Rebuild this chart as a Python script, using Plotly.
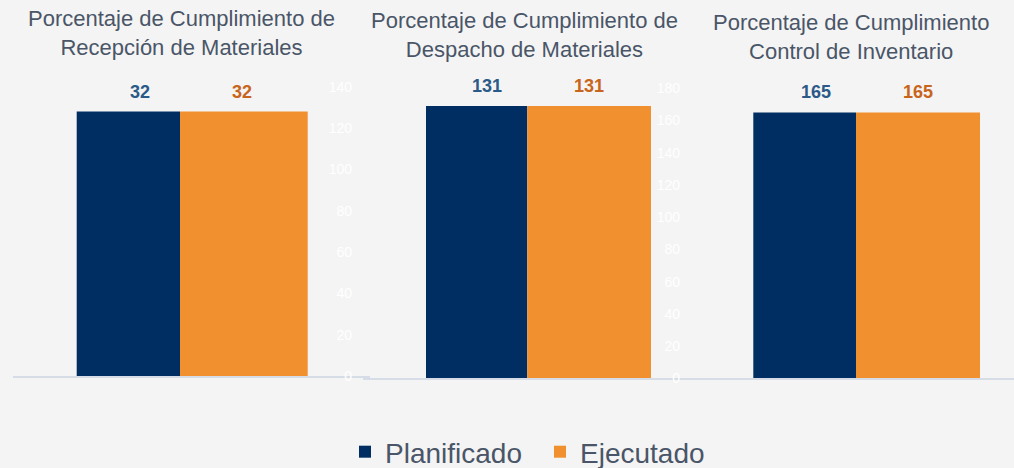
import plotly.graph_objects as go

# ---- data ----
panel_titles = [
    "Porcentaje de Cumplimiento de<br>Recepción de Materiales",
    "Porcentaje de Cumplimiento de<br>Despacho de Materiales",
    "Porcentaje de Cumplimiento<br>Control de Inventario",
]
series_names = ["Planificado", "Ejecutado"]
planificado_values = [128, 169, 165]   # bar heights
ejecutado_values = [128, 169, 165]
planificado_labels = ["32", "131", "165"]  # data labels as printed
ejecutado_labels = ["32", "131", "165"]
y_max = [140, 180, 180]
tick_step = 20

# ---- style / layout ----
W, H = 1014, 468
NAVY = "#012E62"
ORANGE = "#F0902F"
NAVY_TXT = "#2C5A88"
ORANGE_TXT = "#C8641C"
TITLE_C = "#4A5668"
BG = "#F4F4F4"
FONT = "Liberation Sans, Arial, sans-serif"

# per-panel pixel geometry: x-domain, junction between bars, bar widths, y-domain (bottom, top px)
geo = [
    dict(xd=(13, 370), j=180.0, wn=103.3, wo=127.7, yd=(376.0, 86.7), ax=352, show_y=True, tc=181),
    dict(xd=(363, 700), j=527.3, wn=101.3, wo=123.7, yd=(378.3, 88.3), ax=680, show_y=True, tc=524),
    dict(xd=(700, 1014), j=856.0, wn=102.7, wo=124.0, yd=(378.3, 88.3), ax=1000, show_y=False, tc=851),
]

fig = go.Figure()
annotations = []
layout = {}
for i, g in enumerate(geo):
    n = "" if i == 0 else str(i + 1)
    xa, ya = "x" + n, "y" + n
    cat = [panel_titles[i]]
    fig.add_trace(go.Bar(
        x=cat, y=[planificado_values[i]], name=series_names[0], legendgroup="p",
        showlegend=(i == 0), marker=dict(color=NAVY, line=dict(width=0)),
        width=g["wn"], offset=-g["wn"], xaxis=xa, yaxis=ya, hoverinfo="skip"))
    fig.add_trace(go.Bar(
        x=cat, y=[ejecutado_values[i]], name=series_names[1], legendgroup="e",
        showlegend=(i == 0), marker=dict(color=ORANGE, line=dict(width=0)),
        width=g["wo"], offset=0, xaxis=xa, yaxis=ya, hoverinfo="skip"))

    x0, x1 = g["xd"]
    layout["xaxis" + n] = dict(
        type="category", domain=[x0 / W, x1 / W], range=[x0 - g["j"], x1 - g["j"]],
        showticklabels=False, showgrid=False, zeroline=False, ticks="",
        showline=True, linecolor="#D6DDE6", linewidth=2, anchor=ya, fixedrange=True)
    yb, yt = g["yd"]
    layout["yaxis" + n] = dict(
        domain=[1 - yb / H, 1 - yt / H], range=[0, y_max[i]], dtick=tick_step,
        showgrid=False, zeroline=False, showline=False, ticks="",
        showticklabels=g["show_y"], side="left", ticklabelposition="outside",
        anchor="free", position=g["ax"] / W, automargin=False,
        tickfont=dict(family=FONT, size=14, color="#FFFFFF"), fixedrange=True)

    # data labels
    annotations.append(dict(
        x=-40, y=planificado_values[i], xref=xa, yref=ya, text=planificado_labels[i],
        showarrow=False, yshift=20, font=dict(family=FONT, size=18, color=NAVY_TXT, weight="bold")))
    annotations.append(dict(
        x=62, y=ejecutado_values[i], xref=xa, yref=ya, text=ejecutado_labels[i],
        showarrow=False, yshift=20, font=dict(family=FONT, size=18, color=ORANGE_TXT, weight="bold")))
    # panel title
    annotations.append(dict(
        x=g["tc"] / W, y=1 - (33 + 2 * i) / H, xref="paper", yref="paper",
        text=panel_titles[i], showarrow=False, xanchor="center", yanchor="middle",
        font=dict(family=FONT, size=22, color=TITLE_C)))

fig.update_layout(
    width=W, height=H, margin=dict(l=0, r=0, t=0, b=0, autoexpand=False),
    paper_bgcolor=BG, plot_bgcolor="rgba(0,0,0,0)", barmode="overlay",
    showlegend=True,
    legend=dict(orientation="h", x=345 / W, xanchor="left", y=1 - 452 / H, yanchor="middle",
                font=dict(family=FONT, size=28, color=TITLE_C), bgcolor="rgba(0,0,0,0)",
                entrywidth=150, entrywidthmode="pixels",
                itemsizing="constant", traceorder="normal"),
    annotations=annotations, **layout)

fig.write_html("out.html", config={"displayModeBar": False, "staticPlot": True},
               post_script="document.body.style.margin='0';document.body.style.overflow='hidden';")
